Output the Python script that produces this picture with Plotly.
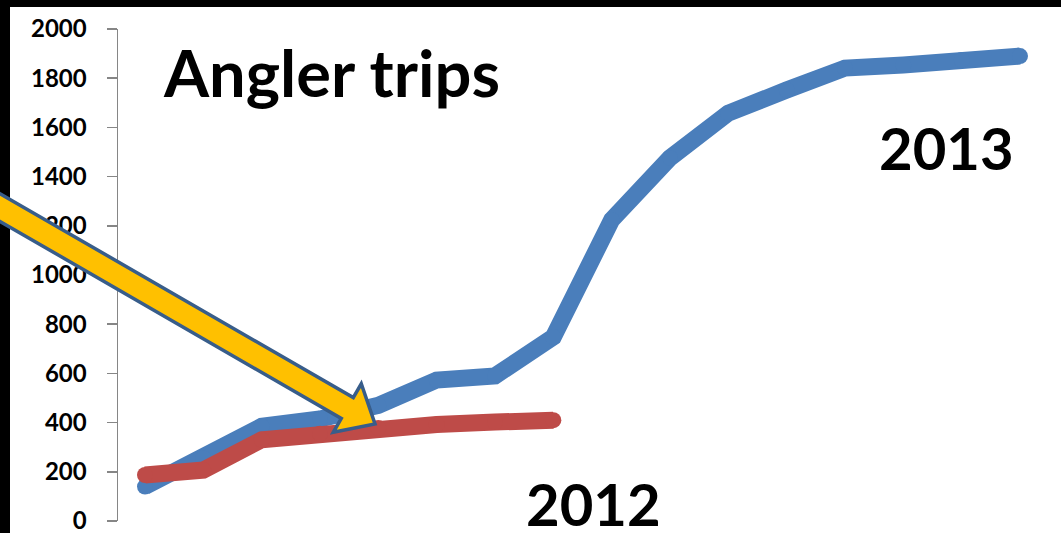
import math
import plotly.graph_objects as go

# ---- data ----
periods = list(range(16))
trips_2013 = [140, 255, 385, 415, 470, 573, 590, 748, 1224, 1476, 1658, 1752, 1841, 1854, 1874, 1890]
trips_2012 = [187, 207, 330, 355, 378, 392, 402, 410]
y_ticks = [0, 200, 400, 600, 800, 1000, 1200, 1400, 1600, 1800, 2000]

W, H = 1061, 533
ML, MR, MT, MB = 118, 10, 29, 12
PW, PH = W - ML - MR, H - MT - MB

def px(x):
    return (x - ML) / PW

def py(y):
    return (H - MB - y) / PH

FONT = "Lato"
BLUE = "#4A7EBB"
RED = "#BE4B48"
LW = 17

fig = go.Figure()
fig.add_trace(go.Scatter(
    x=periods[:len(trips_2013)], y=trips_2013, mode="lines+markers",
    line=dict(color=BLUE, width=LW),
    marker=dict(color=BLUE, size=LW - 1, line=dict(width=0)),
    showlegend=False, hoverinfo="skip"))
fig.add_trace(go.Scatter(
    x=periods[:len(trips_2012)], y=trips_2012, mode="lines+markers",
    line=dict(color=RED, width=LW),
    marker=dict(color=RED, size=LW - 1, line=dict(width=0)),
    showlegend=False, hoverinfo="skip"))

# x range so that category 0 sits at 145 px and category 15 at 1020 px
step = (1020 - 145) / 15
x_lo = -(145 - ML) / step
x_hi = x_lo + PW / step

# block arrow (decoration) built in pixel space
tip = (375, 424)
tail = (-20, 196)
dx, dy = tip[0] - tail[0], tip[1] - tail[1]
ln = math.hypot(dx, dy)
ux, uy = dx / ln, dy / ln
nx, ny = -uy, ux
w, hh, L = 12, 28, 32
def pt(base, a, b):
    return (base[0] + a * ux + b * nx, base[1] + a * uy + b * ny)
poly = [
    pt(tail, 0, -w), pt(tip, -L, -w), pt(tip, -L, -hh), tip,
    pt(tip, -L, hh), pt(tip, -L, w), pt(tail, 0, w),
]
path = "M " + " L ".join(f"{px(x):.5f},{py(y):.5f}" for x, y in poly) + " Z"

shapes = [
    dict(type="rect", xref="paper", yref="paper", x0=px(0), x1=px(W), y0=py(0), y1=py(7),
         fillcolor="black", line=dict(width=0), layer="below"),
    dict(type="rect", xref="paper", yref="paper", x0=px(0), x1=px(10), y0=py(H), y1=py(0),
         fillcolor="black", line=dict(width=0), layer="below"),
    dict(type="path", xref="paper", yref="paper", path=path,
         fillcolor="#FFC000", line=dict(color="#385D8A", width=3.5), layer="above"),
]

annotations = [
    dict(text="Angler trips", x=px(331), y=py(72), xref="paper", yref="paper",
         xanchor="center", yanchor="middle", showarrow=False,
         font=dict(family=FONT, size=65, color="black", weight="bold")),
    dict(text="2013", x=px(946), y=py(147), xref="paper", yref="paper",
         xanchor="center", yanchor="middle", showarrow=False,
         font=dict(family=FONT, size=58, color="black", weight="bold")),
    dict(text="2012", x=px(593), y=py(503), xref="paper", yref="paper",
         xanchor="center", yanchor="middle", showarrow=False,
         font=dict(family=FONT, size=58, color="black", weight="bold")),
]

fig.update_layout(
    width=W, height=H, autosize=False,
    margin=dict(l=ML, r=MR, t=MT, b=MB, pad=0, autoexpand=False),
    paper_bgcolor="white", plot_bgcolor="white",
    xaxis=dict(range=[x_lo, x_hi], visible=False, fixedrange=True, automargin=False),
    yaxis=dict(range=[0, 2000], tickvals=y_ticks, ticktext=[str(v) for v in y_ticks],
               automargin=False,
               showgrid=False, zeroline=False, showline=True, linecolor="#868686", linewidth=1.5,
               ticks="outside", ticklen=10, tickcolor="#868686", tickwidth=1.5,
               ticklabelstandoff=15, ticklabeloverflow="allow",
               tickfont=dict(family=FONT, size=24, color="black", weight="bold"),
               fixedrange=True),
    shapes=shapes,
    annotations=annotations,
    showlegend=False,
)

fig.write_html(
    "out.html",
    config={"responsive": False, "displayModeBar": False, "staticPlot": True},
    post_script="document.body.style.margin='0';document.body.style.overflow='hidden';",
)
